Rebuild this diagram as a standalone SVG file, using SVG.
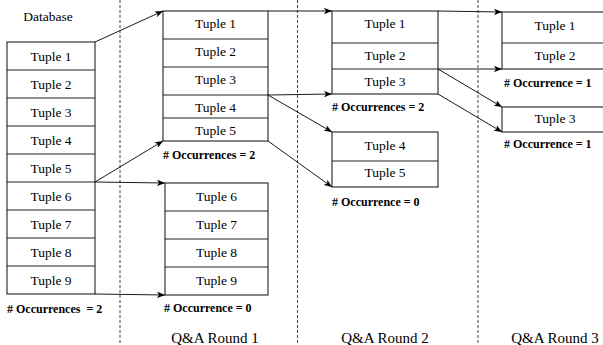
<svg xmlns="http://www.w3.org/2000/svg" width="603" height="345" viewBox="0 0 603 345">
<defs>
<marker id="ah" viewBox="0 0 10 8" refX="10" refY="4" markerWidth="8" markerHeight="6.4" orient="auto" markerUnits="userSpaceOnUse">
<path d="M0,0 L10,4 L0,8 L2.5,4 Z" fill="#000"/>
</marker>
</defs>
<style>
.bg{fill:#fff}
.box{fill:#fff;stroke:#222;stroke-width:1.1}
.sep{stroke:#222;stroke-width:1.1}
.t{font-family:"Liberation Serif",serif;font-size:13.5px;fill:#000;text-anchor:middle}
.occ{font-family:"Liberation Serif",serif;font-size:12px;font-weight:bold;fill:#000;white-space:pre}
.rnd{font-family:"Liberation Serif",serif;font-size:15px;fill:#000;text-anchor:middle}
.dash{stroke:#444;stroke-width:1;stroke-dasharray:3,2;fill:none}
.arr{stroke:#000;stroke-width:0.9;fill:none;marker-end:url(#ah)}
</style>
<rect class="bg" x="0" y="0" width="603" height="345"/>
<g id="dividers">
<line class="dash" x1="120" y1="0" x2="120" y2="345"/>
<line class="dash" x1="297.5" y1="0" x2="297.5" y2="345"/>
<line class="dash" x1="478" y1="0" x2="478" y2="345"/>
</g>
<g id="database">
<text class="t" x="48" y="21">Database</text>
<rect class="box" x="7" y="42" width="88" height="252"/>
<line class="sep" x1="7" y1="70" x2="95" y2="70"/>
<line class="sep" x1="7" y1="98" x2="95" y2="98"/>
<line class="sep" x1="7" y1="126" x2="95" y2="126"/>
<line class="sep" x1="7" y1="154" x2="95" y2="154"/>
<line class="sep" x1="7" y1="182" x2="95" y2="182"/>
<line class="sep" x1="7" y1="210" x2="95" y2="210"/>
<line class="sep" x1="7" y1="238" x2="95" y2="238"/>
<line class="sep" x1="7" y1="266" x2="95" y2="266"/>
<text class="t" x="51" y="60.5">Tuple 1</text>
<text class="t" x="51" y="88.5">Tuple 2</text>
<text class="t" x="51" y="116.5">Tuple 3</text>
<text class="t" x="51" y="144.5">Tuple 4</text>
<text class="t" x="51" y="172.5">Tuple 5</text>
<text class="t" x="51" y="200.5">Tuple 6</text>
<text class="t" x="51" y="228.5">Tuple 7</text>
<text class="t" x="51" y="256.5">Tuple 8</text>
<text class="t" x="51" y="284.5">Tuple 9</text>
<text class="occ" x="7" y="313"># Occurrences  = 2</text>
</g>
<g id="r1a">
<rect class="box" x="163" y="11" width="105" height="130"/>
<line class="sep" x1="163" y1="39" x2="268" y2="39"/>
<line class="sep" x1="163" y1="67" x2="268" y2="67"/>
<line class="sep" x1="163" y1="95" x2="268" y2="95"/>
<line class="sep" x1="163" y1="118" x2="268" y2="118"/>
<text class="t" x="215.5" y="28">Tuple 1</text>
<text class="t" x="215.5" y="56">Tuple 2</text>
<text class="t" x="215.5" y="84">Tuple 3</text>
<text class="t" x="215.5" y="111.5">Tuple 4</text>
<text class="t" x="215.5" y="134.5">Tuple 5</text>
<text class="occ" x="163" y="159"># Occurrences = 2</text>
</g>
<g id="r1b">
<rect class="box" x="165" y="183" width="103" height="112"/>
<line class="sep" x1="165" y1="211" x2="268" y2="211"/>
<line class="sep" x1="165" y1="239" x2="268" y2="239"/>
<line class="sep" x1="165" y1="267" x2="268" y2="267"/>
<text class="t" x="216.5" y="200.5">Tuple 6</text>
<text class="t" x="216.5" y="229">Tuple 7</text>
<text class="t" x="216.5" y="257">Tuple 8</text>
<text class="t" x="216.5" y="285">Tuple 9</text>
<text class="occ" x="164" y="312"># Occurrence = 0</text>
</g>
<g id="r2a">
<rect class="box" x="332" y="11" width="106" height="83"/>
<line class="sep" x1="332" y1="43" x2="438" y2="43"/>
<line class="sep" x1="332" y1="69" x2="438" y2="69"/>
<text class="t" x="385" y="28">Tuple 1</text>
<text class="t" x="385" y="59.5">Tuple 2</text>
<text class="t" x="385" y="85.5">Tuple 3</text>
<text class="occ" x="332" y="111"># Occurrences = 2</text>
</g>
<g id="r2b">
<rect class="box" x="332" y="132" width="106" height="55"/>
<line class="sep" x1="332" y1="161" x2="438" y2="161"/>
<text class="t" x="385" y="149.5">Tuple 4</text>
<text class="t" x="385" y="176.5">Tuple 5</text>
<text class="occ" x="332" y="206"># Occurrence = 0</text>
</g>
<g id="r3a">
<rect class="box" x="502" y="12" width="110" height="57"/>
<line class="sep" x1="502" y1="43" x2="612" y2="43"/>
<text class="t" x="555" y="30">Tuple 1</text>
<text class="t" x="555" y="59.5">Tuple 2</text>
<text class="occ" x="504" y="87"># Occurrence = 1</text>
</g>
<g id="r3b">
<rect class="box" x="502" y="107" width="110" height="25"/>
<text class="t" x="555" y="123">Tuple 3</text>
<text class="occ" x="504" y="148"># Occurrence = 1</text>
</g>
<g id="labels">
<text class="rnd" x="215" y="343">Q&amp;A Round 1</text>
<text class="rnd" x="385" y="343">Q&amp;A Round 2</text>
<text class="rnd" x="555" y="343">Q&amp;A Round 3</text>
</g>
<g id="connectors">
<line class="arr" x1="95" y1="42" x2="163" y2="11"/>
<line class="arr" x1="95" y1="182" x2="163" y2="141"/>
<line class="arr" x1="95" y1="182" x2="165" y2="183"/>
<line class="arr" x1="95" y1="294" x2="165" y2="295"/>
<line class="arr" x1="268" y1="11" x2="332" y2="11"/>
<line class="arr" x1="268" y1="95" x2="332" y2="94"/>
<line class="arr" x1="268" y1="95" x2="332" y2="132"/>
<line class="arr" x1="268" y1="141" x2="332" y2="187"/>
<line class="arr" x1="438" y1="11" x2="502" y2="12"/>
<line class="arr" x1="438" y1="69" x2="502" y2="69"/>
<line class="arr" x1="438" y1="69" x2="502" y2="107"/>
<line class="arr" x1="438" y1="94" x2="502" y2="132"/>
</g>
</svg>
